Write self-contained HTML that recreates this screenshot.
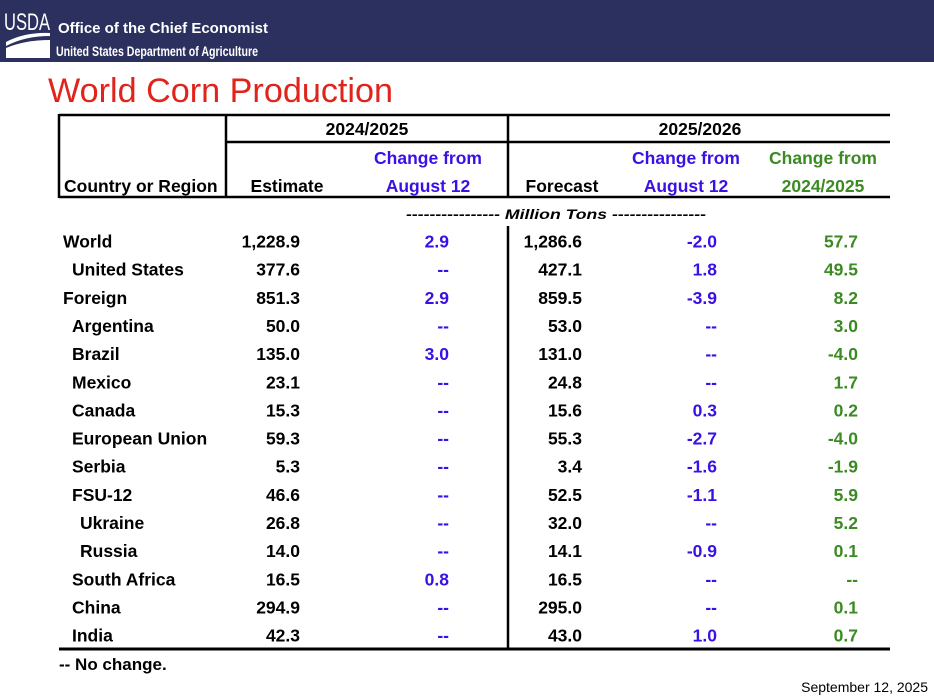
<!DOCTYPE html>
<html><head><meta charset="utf-8"><style>
html,body{margin:0;padding:0;background:#fff;width:934px;height:700px;overflow:hidden}
svg{display:block}
text{font-family:"Liberation Sans",sans-serif}
</style></head><body>
<svg id="s" width="934" height="700" xmlns="http://www.w3.org/2000/svg">
<rect x="0" y="0" width="934" height="62" fill="#2c305e"/>
<g>
<text x="4" y="30" fill="#fff" font-size="24" font-family="Liberation Serif" textLength="46" lengthAdjust="spacingAndGlyphs">USDA</text>
<path d="M6 42 Q25 32 50 33 L50 36 Q25 36 6 46 Z" fill="#fff"/>
<path d="M6 48 Q25 40 50 40 L50 58 L6 58 Z" fill="#fff"/>
</g>
<text x="58" y="33" fill="#fff" font-size="15" font-weight="bold">Office of the Chief Economist</text>
<text x="56" y="56" fill="#fff" font-size="14" font-weight="bold" textLength="202" lengthAdjust="spacingAndGlyphs">United States Department of Agriculture</text>
<text x="48" y="102" fill="#e0241b" font-size="34" textLength="345" lengthAdjust="spacingAndGlyphs">World Corn Production</text>
<g stroke="#000" stroke-width="2.5">
<line x1="59" y1="115" x2="890" y2="115"/>
<line x1="226" y1="142" x2="890" y2="142"/>
<line x1="59" y1="197" x2="890" y2="197"/>
<line x1="59" y1="114" x2="59" y2="198"/>
<line x1="226" y1="114" x2="226" y2="198"/>
<line x1="508" y1="114" x2="508" y2="198"/>
<line x1="508" y1="226" x2="508" y2="648"/>
<line x1="59" y1="649" x2="890" y2="649" stroke-width="3"/>
</g>
<g font-weight="bold" font-size="17.5">
<text x="367" y="135" text-anchor="middle">2024/2025</text>
<text x="700" y="135" text-anchor="middle">2025/2026</text>
<text x="64" y="192">Country or Region</text>
<text x="287" y="192" text-anchor="middle">Estimate</text>
<text x="428" y="164" text-anchor="middle" fill="#3a10e5">Change from</text>
<text x="428" y="192" text-anchor="middle" fill="#3a10e5">August 12</text>
<text x="562" y="192" text-anchor="middle">Forecast</text>
<text x="686" y="164" text-anchor="middle" fill="#3a10e5">Change from</text>
<text x="686" y="192" text-anchor="middle" fill="#3a10e5">August 12</text>
<text x="823" y="164" text-anchor="middle" fill="#3b8a22">Change from</text>
<text x="823" y="192" text-anchor="middle" fill="#3b8a22">2024/2025</text>
</g>
<text x="556" y="219" text-anchor="middle" font-size="14" font-weight="bold" font-style="italic" textLength="300" lengthAdjust="spacingAndGlyphs">---------------- Million Tons ----------------</text>
<g id="rows" font-weight="bold" font-size="17.5"></g>
<text x="59" y="670" font-size="17" font-weight="bold">-- No change.</text>
<text x="928" y="692" text-anchor="end" font-size="14">September 12, 2025</text>
</svg>
<script>
const countries=["World","United States","Foreign","Argentina","Brazil","Mexico","Canada","European Union","Serbia","FSU-12","Ukraine","Russia","South Africa","China","India"];
const indent=[0,1,0,1,1,1,1,1,1,1,2,2,1,1,1];
const estimate=["1,228.9","377.6","851.3","50.0","135.0","23.1","15.3","59.3","5.3","46.6","26.8","14.0","16.5","294.9","42.3"];
const chgPrev=["2.9","--","2.9","--","3.0","--","--","--","--","--","--","--","0.8","--","--"];
const forecast=["1,286.6","427.1","859.5","53.0","131.0","24.8","15.6","55.3","3.4","52.5","32.0","14.1","16.5","295.0","43.0"];
const chgCur=["-2.0","1.8","-3.9","--","--","--","0.3","-2.7","-1.6","-1.1","--","-0.9","--","--","1.0"];
const chgYear=["57.7","49.5","8.2","3.0","-4.0","1.7","0.2","-4.0","-1.9","5.9","5.2","0.1","--","0.1","0.7"];
const g=document.getElementById('rows');
const NS="http://www.w3.org/2000/svg";
function t(x,y,s,anchor,fill,name){
  const e=document.createElementNS(NS,'text');
  e.setAttribute('x',x);e.setAttribute('y',y);
  if(anchor)e.setAttribute('text-anchor',anchor);
  if(fill)e.setAttribute('fill',fill);
  
  
  e.textContent=s;g.appendChild(e);
}
countries.forEach((c,i)=>{
  const y=247.5+i*28.15;
  t(63+[0,9,17][indent[i]],y,c,null,null,'country-label');
  t(300,y,estimate[i],'end',null,'estimate-value');
  t(449,y,chgPrev[i],'end','#3a10e5','change-prev-value');
  t(582,y,forecast[i],'end',null,'forecast-value');
  t(717,y,chgCur[i],'end','#3a10e5','change-month-value');
  t(858,y,chgYear[i],'end','#3b8a22','change-year-value');
});
</script>
</body></html>
